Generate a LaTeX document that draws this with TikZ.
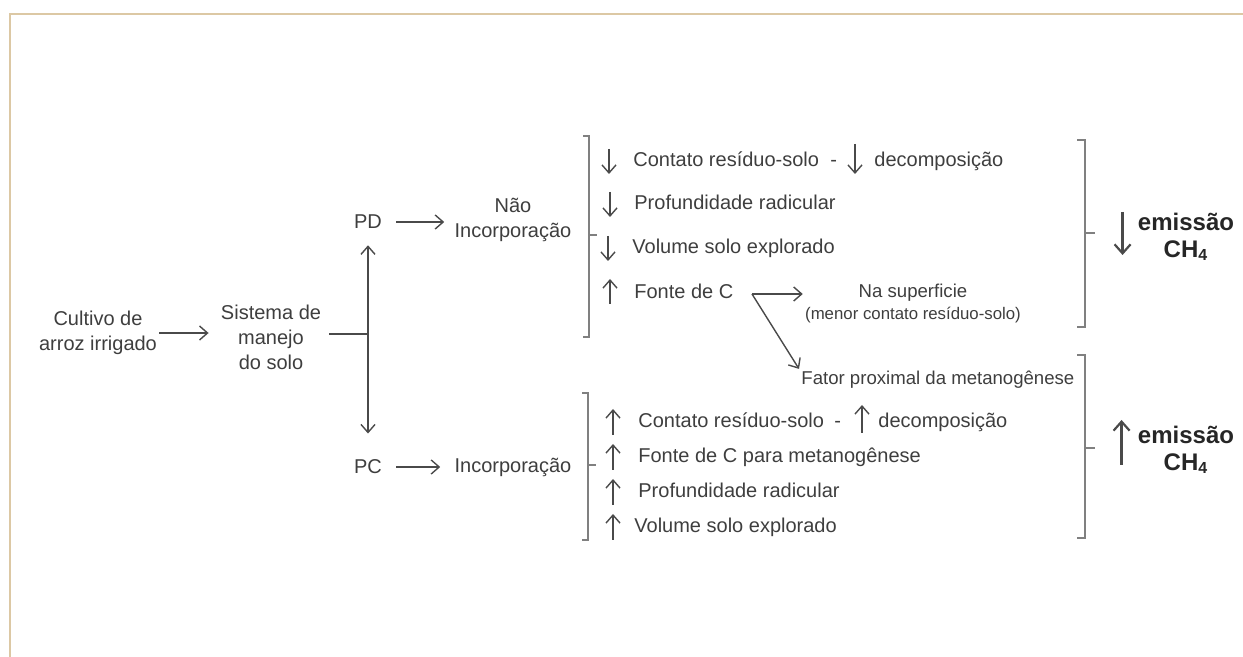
\documentclass[tikz,border=0pt]{standalone}
\usepackage{fontspec}
\setmainfont{Liberation Sans}
\usetikzlibrary{arrows.meta,calc,positioning}
\definecolor{framebeige}{HTML}{DCC8A4}
\definecolor{inkgray}{HTML}{3E3E3E}
\definecolor{linegray}{HTML}{4A4A4A}

\begin{document}
\begin{tikzpicture}[x=0.5pt,y=-0.5pt,
    txt/.style={inner sep=1pt,text=inkgray,align=center,font=\fontsize{10}{12.5}\selectfont},
    item/.style={txt,anchor=west,text height=7pt,text depth=2pt},
    small/.style={txt,font=\fontsize{9.3}{11}\selectfont},
    emis/.style={txt,text=black!85,font=\fontsize{12}{13.5}\selectfont\bfseries},
    barb/.tip={Straight Barb[length=4pt,width=7pt]},
    conn/.style={draw=linegray,line width=0.7pt,-barb},
    bigarrow/.style={draw=linegray,line width=1.1pt,-{Straight Barb[length=4.5pt,width=8pt]}},
    bracket/.style={draw=gray,line width=0.8pt},
    frameline/.style={draw=framebeige,line width=1pt}]
    \useasboundingbox (0,0) rectangle (1243,657);
    \draw[frameline] (10,657) -- (10,14) -- (1243,14);

    % left side
    \node[txt] (cult) at (98,333) {Cultivo de\\arroz irrigado};
    \node[txt] (sist) at (271,337) {Sistema de\\manejo\\do solo};
    \node[txt] (pd) at (368,222) {PD};
    \node[txt] (pc) at (368,467) {PC};
    \node[txt] (naoinc) at (513,220) {Não\\Incorporação};
    \node[txt] (inc) at (513,467) {Incorporação};
    \coordinate (split) at (368,334);

    \draw[conn] (cult.east) -- ([xshift=-5pt]cult.east -| sist.west);
    \draw[draw=linegray,line width=0.7pt] ([xshift=3pt]sist.east |- split) -- (split);
    \draw[conn,barb-barb] ([yshift=-7pt]pd.south) -- ([yshift=12pt]pc.north);
    \draw[conn] ([xshift=6pt]pd.east) -- ([xshift=-4pt]pd.east -| naoinc.west);
    \draw[conn] ([xshift=6pt]pc.east) -- ([xshift=-6pt]pc.east -| inc.west);

    % brackets
    \draw[bracket] (583,136) -- (589,136) -- (589,337) -- (583,337);
    \draw[bracket] (589,235) -- (597,235);
    \draw[bracket] (582,393) -- (588,393) -- (588,540) -- (582,540);
    \draw[bracket] (588,465) -- (596,465);
    \draw[bracket] (1077,140) -- (1085,140) -- (1085,327) -- (1077,327);
    \draw[bracket] (1085,233) -- (1095,233);
    \draw[bracket] (1077,355) -- (1085,355) -- (1085,538) -- (1077,538);
    \draw[bracket] (1085,448) -- (1095,448);

    % upper items
    \node[item] (u1) at (631,162) {Contato resíduo-solo};
    \node[item] (u1dash) at (828,162) {-};
    \node[item] (u1dec) at (872,162) {decomposição};
    \node[item] (u2) at (632,205) {Profundidade radicular};
    \node[item] (u3) at (630,249) {Volume solo explorado};
    \node[item] (u4) at (632,294) {Fonte de C};
    \foreach \n in {u1,u2,u3}
        \draw[conn] ([xshift=-11pt,yshift=6.5pt]\n.west) -- ([xshift=-11pt,yshift=-6pt]\n.west);
    \draw[conn] ([xshift=-8.5pt,yshift=9pt]u1dec.west) -- ([xshift=-8.5pt,yshift=-6pt]u1dec.west);
    \draw[conn] ([xshift=-11pt,yshift=-5pt]u4.west) -- ([xshift=-11pt,yshift=7.5pt]u4.west);

    \node[small] (surf) at (913,304) {Na superficie\\{\fontsize{8.4}{10}\selectfont(menor contato resíduo-solo)}};
    \node[small,anchor=west] (fator) at (799,380) {Fator proximal da metanogênese};
    \coordinate (fork) at (752,294);
    \draw[conn] (fork) -- (fork -| surf.west);
    \draw[conn] (fork) -- (fator.north west);

    % lower items
    \node[item] (l1) at (636,423) {Contato resíduo-solo};
    \node[item] (l1dash) at (832,423) {-};
    \node[item] (l1dec) at (876,423) {decomposição};
    \node[item] (l2) at (636,458) {Fonte de C para metanogênese};
    \node[item] (l3) at (636,493) {Profundidade radicular};
    \node[item] (l4) at (632,528) {Volume solo explorado};
    \foreach \n in {l1,l2,l3}
        \draw[conn] ([xshift=-11.5pt,yshift=-6pt]\n.west) -- ([xshift=-11.5pt,yshift=7pt]\n.west);
    \draw[conn] ([xshift=-9.5pt,yshift=-6pt]l4.west) -- ([xshift=-9.5pt,yshift=7pt]l4.west);
    \draw[conn] ([xshift=-7pt,yshift=-5pt]l1dec.west) -- ([xshift=-7pt,yshift=9pt]l1dec.west);

    % emission
    \node[emis] (em1) at (1186,237) {emissão\\CH\textsubscript{4}};
    \node[emis] (em2) at (1186,450) {emissão\\CH\textsubscript{4}};
    \draw[bigarrow] ([xshift=-6.5pt,yshift=12.5pt]em1.west) -- ([xshift=-6.5pt,yshift=-9pt]em1.west);
    \draw[bigarrow] ([xshift=-7pt,yshift=-7.5pt]em2.west) -- ([xshift=-7pt,yshift=15pt]em2.west);
\end{tikzpicture}
\end{document}
